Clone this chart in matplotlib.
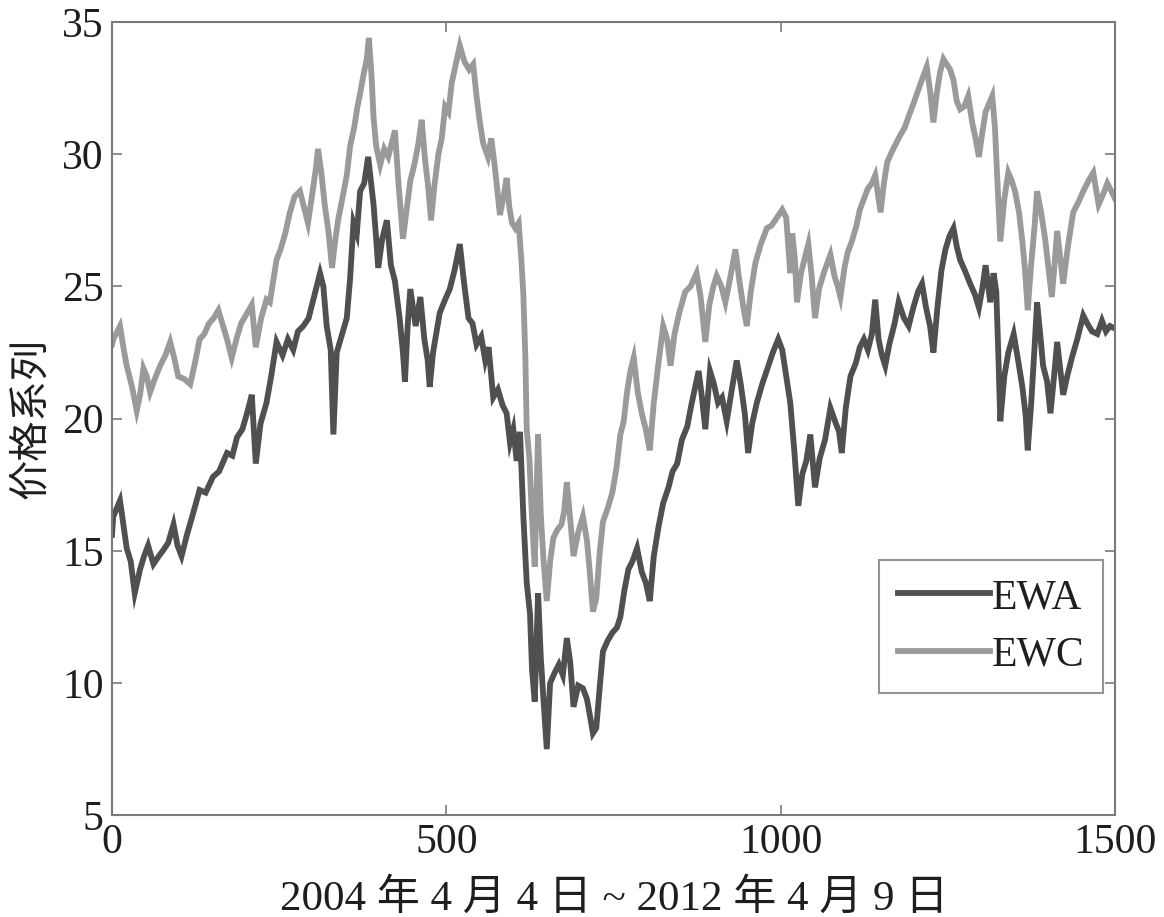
import matplotlib
matplotlib.use("Agg")
import matplotlib.pyplot as plt

plt.rcParams["font.family"] = ["Liberation Serif", "Noto Sans CJK SC"]

# ---- EWA (dark series): (day index, price) ----
ewa_x = [0, 2, 12, 22, 28, 34, 42, 48, 54, 62, 70, 76, 84, 92, 98, 104, 112, 120, 131, 140,
         151, 160, 172, 180, 187, 195, 203, 209, 215, 222, 231, 238, 246, 255, 263, 271, 278,
         286, 294, 302, 311, 316, 321, 327, 331, 336, 344, 351, 356, 361, 366, 371, 377, 383,
         387, 391, 395, 398, 404, 411, 417, 423, 430, 435, 438, 442, 446, 454, 461, 467, 472,
         475, 480, 490, 498, 505, 512, 520, 526, 533, 539, 545, 552, 558, 563, 570, 577, 584,
         590, 595, 600, 605, 610, 615, 620, 625, 628, 632, 637, 641, 645, 650, 655, 662, 668,
         674, 680, 685, 690, 697, 704, 710, 715, 719, 724, 729, 734, 741, 748, 755, 760, 766,
         772, 778, 785, 792, 798, 804, 810, 817, 824, 832, 838, 845, 852, 860, 866, 872, 877,
         882, 887, 894, 900, 906, 912, 919, 926, 934, 940, 946, 951, 957, 964, 972, 980, 988,
         996, 1002, 1008, 1014, 1020, 1026, 1032, 1038, 1044, 1051, 1058, 1066, 1074, 1081,
         1087, 1091, 1097, 1104, 1112, 1118, 1124, 1130, 1136, 1141, 1146, 1151, 1156, 1162,
         1170, 1176, 1184, 1191, 1198, 1205, 1211, 1217, 1223, 1228, 1234, 1240, 1246, 1252,
         1258, 1263, 1268, 1275, 1283, 1290, 1296, 1301, 1306, 1313, 1318, 1322, 1325, 1328,
         1334, 1340, 1348, 1354, 1361, 1366, 1369, 1374, 1379, 1383, 1388, 1392, 1398, 1403,
         1408, 1413, 1418, 1422, 1428, 1435, 1443, 1452, 1458, 1465, 1473, 1480, 1486, 1492, 1500]
ewa_y = [15.6, 16.3, 16.9, 15.1, 14.6, 13.4, 14.3, 14.8, 15.2, 14.5, 14.8, 15.0, 15.3, 16.0,
         15.2, 14.8, 15.6, 16.3, 17.3, 17.2, 17.8, 18.0, 18.7, 18.6, 19.3, 19.6, 20.3, 20.9,
         18.3, 19.8, 20.6, 21.6, 22.9, 22.4, 23.0, 22.6, 23.3, 23.5, 23.8, 24.6, 25.5, 25.0,
         23.5, 22.6, 19.4, 22.5, 23.2, 23.8, 25.3, 27.4, 27.0, 28.6, 28.9, 29.9, 29.0, 28.1,
         26.8, 25.7, 26.8, 27.5, 25.8, 25.2, 23.8, 22.5, 21.4, 23.5, 24.9, 23.5, 24.6, 23.0,
         22.2, 21.2, 22.5, 24.0, 24.5, 24.9, 25.6, 26.6, 25.2, 23.8, 23.6, 22.8, 23.1, 22.2,
         22.7, 20.8, 21.1, 20.5, 20.2, 19.1, 19.6, 18.4, 19.5, 16.3, 13.8, 12.6, 10.5, 9.3,
         13.4, 11.0, 9.4, 7.5, 10.0, 10.4, 10.7, 10.3, 11.7, 10.8, 9.1, 9.9, 9.8, 9.4, 8.7,
         8.1, 8.3, 9.8, 11.2, 11.6, 11.9, 12.1, 12.5, 13.5, 14.3, 14.6, 15.1, 14.2, 13.8, 13.1,
         14.8, 15.9, 16.8, 17.4, 18.0, 18.3, 19.2, 19.7, 20.5, 21.2, 21.8, 20.8, 19.6, 21.8,
         21.3, 20.6, 20.8, 19.9, 21.0, 22.2, 21.3, 20.2, 18.7, 19.8, 20.6, 21.3, 21.9, 22.5,
         23.0, 22.6, 21.6, 20.6, 18.8, 16.7, 17.9, 18.4, 19.4, 17.4, 18.5, 19.2, 20.4, 19.9,
         19.5, 18.7, 20.4, 21.6, 22.1, 22.7, 23.0, 22.6, 23.2, 24.5, 23.0, 22.4, 22.0, 22.8,
         23.6, 24.4, 23.8, 23.5, 24.2, 24.8, 25.1, 24.2, 23.5, 22.5, 24.2, 25.6, 26.4, 26.9,
         27.2, 26.5, 26.0, 25.6, 25.1, 24.7, 24.2, 24.9, 25.8, 24.4, 25.5, 24.8, 22.5, 19.9,
         21.6, 22.5, 23.2, 22.3, 21.2, 20.1, 18.8, 20.5, 22.6, 24.4, 23.1, 22.0, 21.4, 20.2,
         21.5, 22.9, 21.8, 20.9, 21.6, 22.3, 23.0, 23.9, 23.6, 23.3, 23.2, 23.7, 23.3, 23.5, 23.4]

# ---- EWC (light series) ----
ewc_x = [0, 2, 12, 17, 22, 30, 37, 42, 47, 52, 57, 64, 72, 80, 87, 93, 99, 108, 117, 124,
         131, 138, 145, 152, 159, 166, 172, 179, 186, 193, 200, 209, 215, 223, 231, 236, 241,
         246, 252, 259, 266, 273, 281, 287, 293, 300, 305, 308, 313, 318, 324, 329, 333, 338,
         345, 351, 356, 362, 367, 371, 376, 381, 384, 388, 391, 395, 401, 407, 413, 418, 423,
         428, 435, 441, 446, 452, 458, 463, 468, 473, 477, 482, 488, 493, 498, 503, 508, 514,
         520, 527, 534, 540, 545, 550, 555, 562, 567, 572, 580, 586, 590, 594, 598, 603, 608,
         612, 615, 618, 620, 624, 628, 632, 637, 641, 645, 650, 655, 660, 666, 672, 676, 680,
         685, 690, 697, 704, 710, 715, 719, 724, 729, 734, 741, 748, 754, 760, 765, 770, 775,
         780, 786, 792, 798, 804, 810, 817, 824, 830, 835, 841, 848, 857, 865, 874, 880, 887,
         893, 899, 904, 911, 917, 924, 932, 938, 944, 949, 955, 962, 970, 979, 986, 994, 1002,
         1008, 1014, 1017, 1021, 1024, 1030, 1036, 1041, 1046, 1051, 1057, 1064, 1074, 1080,
         1085, 1089, 1095, 1100, 1106, 1113, 1118, 1124, 1130, 1136, 1141, 1145, 1149, 1154,
         1159, 1166, 1172, 1178, 1185, 1192, 1198, 1205, 1212, 1218, 1223, 1228, 1233, 1238,
         1243, 1248, 1253, 1258, 1263, 1268, 1274, 1280, 1286, 1291, 1296, 1301, 1306, 1311,
         1316, 1320, 1324, 1328, 1334, 1340, 1345, 1350, 1356, 1361, 1365, 1369, 1374, 1379,
         1383, 1389, 1395, 1400, 1405, 1409, 1413, 1418, 1422, 1429, 1437, 1445, 1452, 1460,
         1467, 1471, 1475, 1482, 1488, 1492, 1500]
ewc_y = [22.8, 23.0, 23.5, 22.7, 22.0, 21.2, 20.3, 20.9, 21.9, 21.6, 21.0, 21.5, 22.0, 22.4,
         22.9, 22.3, 21.6, 21.5, 21.3, 22.1, 23.0, 23.2, 23.6, 23.8, 24.1, 23.5, 23.0, 22.3,
         23.0, 23.6, 23.9, 24.3, 22.7, 23.8, 24.5, 24.4, 25.2, 26.0, 26.4, 27.0, 27.8, 28.4,
         28.6, 28.0, 27.4, 28.6, 29.5, 30.2, 29.3, 28.1, 27.0, 25.7, 26.6, 27.5, 28.4, 29.2,
         30.3, 31.0, 31.8, 32.3, 33.0, 33.6, 34.4, 33.0, 31.4, 30.3, 29.6, 30.2, 29.9, 30.4,
         30.9, 29.0, 26.8, 28.0, 29.0, 29.6, 30.4, 31.3, 29.8, 28.7, 27.5, 28.8, 30.0, 30.6,
         31.8, 31.6, 32.7, 33.4, 34.1, 33.5, 33.2, 33.4, 32.2, 31.2, 30.4, 29.9, 30.6, 29.6,
         27.7, 28.5, 29.1, 28.0, 27.4, 27.2, 27.4, 26.0, 24.7, 22.3, 19.6, 18.5, 16.2, 14.4,
         19.4, 16.4, 14.7, 13.1, 14.6, 15.5, 15.8, 16.0, 16.5, 17.6, 16.2, 14.8, 15.7, 16.3,
         15.4, 14.0, 12.7, 13.2, 14.9, 16.1, 16.6, 17.2, 18.1, 19.4, 19.9, 21.0, 21.8, 22.3,
         21.0, 20.2, 19.6, 18.8, 20.6, 22.1, 23.5, 23.0, 22.0, 23.2, 24.0, 24.8, 25.0, 25.5,
         24.6, 22.9, 24.3, 25.0, 25.4, 25.0, 24.4, 25.3, 26.4, 25.2, 24.2, 23.5, 24.8, 25.9,
         26.6, 27.2, 27.3, 27.6, 27.9, 27.6, 25.5, 27.0, 26.0, 24.4, 25.5, 26.1, 26.6, 25.4,
         23.8, 24.9, 25.5, 26.2, 25.4, 25.0, 24.6, 25.7, 26.3, 26.7, 27.3, 27.9, 28.3, 28.7,
         28.9, 29.2, 28.5, 27.8, 28.9, 29.7, 30.1, 30.4, 30.7, 31.0, 31.5, 31.9, 32.4, 32.9,
         33.3, 32.4, 31.2, 32.3, 33.1, 33.6, 33.4, 33.2, 32.8, 32.0, 31.7, 31.8, 32.2, 31.2,
         30.6, 29.9, 30.8, 31.6, 31.9, 32.2, 31.0, 28.8, 26.7, 28.3, 29.3, 29.0, 28.6, 27.8,
         26.7, 25.6, 24.1, 25.8, 27.2, 28.6, 27.8, 26.8, 25.7, 24.6, 25.8, 27.1, 26.0, 25.1,
         26.5, 27.8, 28.2, 28.6, 29.0, 29.3, 28.7, 28.1, 28.5, 28.9, 28.7, 28.3]

x_ticks = [0, 500, 1000, 1500]
y_ticks = [5, 10, 15, 20, 25, 30, 35]

EWA_C = "#505050"
EWC_C = "#9a9a9a"
FRAME = "#7a7a7a"
TXT = "#1e1e1e"

fig = plt.figure(figsize=(11.64, 9.17), dpi=100)
ax = fig.add_axes([0.0962, 0.111, 0.862, 0.865])

ax.plot(ewa_x, ewa_y, color=EWA_C, lw=4.2, label="EWA", solid_joinstyle="miter")
ax.plot(ewc_x, ewc_y, color=EWC_C, lw=4.2, label="EWC", solid_joinstyle="miter")

ax.set_xlim(0, 1500)
ax.set_ylim(5, 35)
ax.set_xticks(x_ticks)
ax.set_yticks(y_ticks)
ax.tick_params(direction="in", length=7, width=1.2, color=FRAME,
               top=True, right=True, labelsize=30, labelcolor=TXT, pad=6)
for s in ax.spines.values():
    s.set_color(FRAME)
    s.set_linewidth(1.5)

ax.set_xlabel("2004 年 4 月 4 日 ~ 2012 年 4 月 9 日", fontsize=31, color=TXT, labelpad=12)
ax.set_ylabel("价格系列", fontsize=29, color=TXT, labelpad=8)

leg = ax.legend(loc="lower right", bbox_to_anchor=(0.988, 0.154), fontsize=30,
                frameon=True, fancybox=False, handlelength=2.2, handletextpad=0.05,
                borderpad=0.45, labelspacing=0.45, borderaxespad=0.0)
leg.get_frame().set_edgecolor(FRAME)
leg.get_frame().set_linewidth(1.5)
for t in leg.get_texts():
    t.set_color(TXT)

fig.savefig("out.png", dpi=100, facecolor="white")
